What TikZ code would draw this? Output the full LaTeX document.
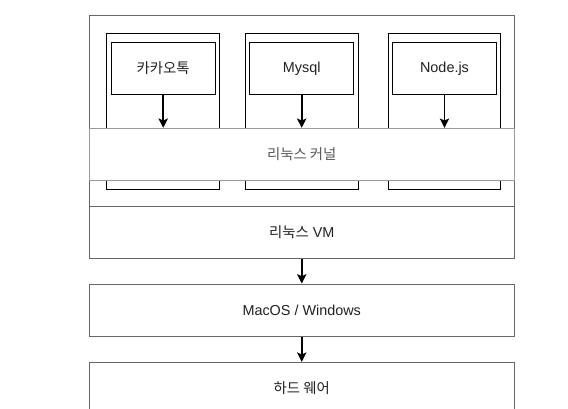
\documentclass[tikz,border=0pt]{standalone}
\usepackage{fontspec}
\setmainfont{Liberation Sans}
\newfontfamily\kr{Noto Sans CJK KR}
\usetikzlibrary{arrows.meta}
\definecolor{framegray}{HTML}{666666}
\definecolor{textgray}{HTML}{222222}
\tikzset{
    layerbox/.style = {draw = framegray, line width = 0.75pt, fill = white, inner sep = 0pt,
        minimum width = 318.4pt, minimum height = 39pt, text = textgray,
        font = \fontsize{10.8}{13}\selectfont},
    contbox/.style = {draw = black, line width = 0.75pt, inner sep = 0pt,
        minimum width = 84.5pt, minimum height = 117pt},
    appbox/.style = {draw = black, line width = 0.75pt, fill = white, inner sep = 0pt,
        minimum width = 78.2pt, minimum height = 39pt, text = textgray,
        font = \fontsize{10.8}{13}\selectfont},
    flow/.style = {line width = 1.2pt, -{Stealth[length = 7pt, width = 7pt, inset = 1.5pt]}}
}
\begin{document}
\begin{tikzpicture}[x = 0.75pt, y = -0.75pt]
    \clip (0, 0) rectangle (568, 408);
    \useasboundingbox (0, 0) rectangle (568, 408);
    % virtual machine area
    \node[layerbox, minimum height = 143.5pt] (vmarea) at (301.75, 111.35) {};
    \node[layerbox, minimum height = 38.5pt] (vm) at (301.75, 232.65) {{\kr 리눅스} VM};
    % containers
    \node[contbox] (cont1) at (163, 111.3) {};
    \node[contbox] (cont2) at (301.7, 111.3) {};
    \node[contbox] (cont3) at (444.5, 111.3) {};
    \node[appbox] (kakao) at (163.2, 68.3) {\kr 카카오톡};
    \node[appbox] (mysql) at (301.7, 68.3) {Mysql};
    \node[appbox] (nodejs) at (444.5, 68.3) {Node.js};
    % kernel layer drawn over the containers
    \node[layerbox, minimum height = 38.8pt, draw = black!40, text = black!65] (kernel)
        at (301.75, 154.2) {\kr 리눅스 커널};
    \draw[flow] (kakao) -- (kakao |- kernel.north);
    \draw[flow] (mysql) -- (mysql |- kernel.north);
    \draw[flow] (nodejs) -- (nodejs |- kernel.north);
    % host layers
    \node[layerbox] (host) at (301.75, 310) {MacOS / Windows};
    \node[layerbox] (hw) at (301.75, 388.3) {\kr 하드 웨어};
    \draw[flow] (vm) -- (host);
    \draw[flow] (host) -- (hw);
\end{tikzpicture}
\end{document}
